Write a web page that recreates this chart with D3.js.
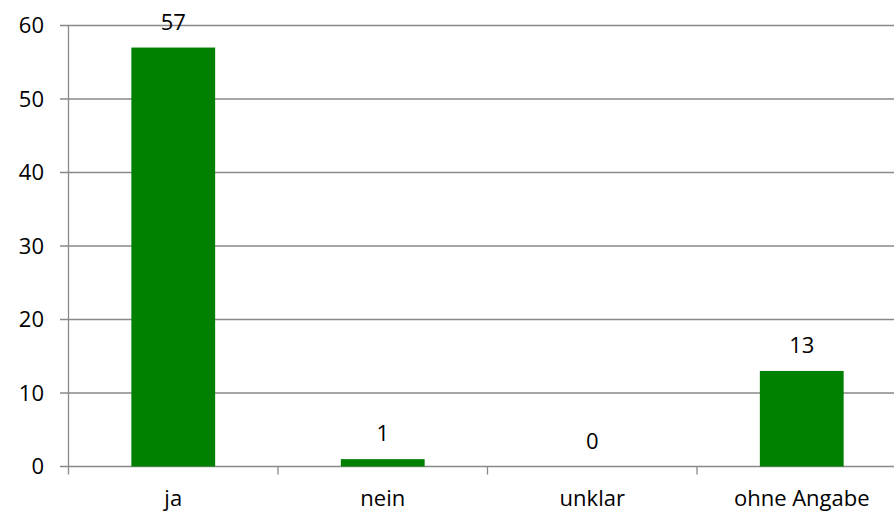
<!DOCTYPE html>
<html><head><meta charset="utf-8">
<script src="https://cdn.jsdelivr.net/npm/d3@7"></script>
<style>body{margin:0;background:#fff}svg{display:block}text{font-family:"Open Sans",sans-serif;fill:#000}</style>
</head><body><svg id="c" width="894" height="513"></svg>
<script>
const categories = ["ja", "nein", "unklar", "ohne Angabe"];
const values = [57, 1, 0, 13];
const yTicks = [0, 10, 20, 30, 40, 50, 60];

const svg = d3.select("#c");
const x0 = 68.5, plotTop = 25.5, plotBottom = 466.5;
const x = d3.scaleBand().domain(categories).range([x0, x0 + 4 * 209.5]).padding(0);
const y = d3.scaleLinear().domain([0, 60]).range([plotBottom, plotTop]);
const fs = 22;

svg.append("g").selectAll("line").data(yTicks).join("line")
  .attr("x1", 60).attr("x2", 894)
  .attr("y1", d => y(d)).attr("y2", d => y(d))
  .attr("stroke", "#898989").attr("stroke-width", 1.3);

svg.append("line").attr("x1", x0).attr("x2", x0).attr("y1", plotTop).attr("y2", plotBottom + 8)
  .attr("stroke", "#898989").attr("stroke-width", 1.3);

svg.append("g").selectAll("line").data(categories.slice(1)).join("line")
  .attr("x1", d => x(d)).attr("x2", d => x(d))
  .attr("y1", plotBottom).attr("y2", plotBottom + 8)
  .attr("stroke", "#898989").attr("stroke-width", 1.3);

svg.append("g").selectAll("text").data(yTicks).join("text")
  .attr("x", 44).attr("y", d => y(d)).attr("dy", "0.35em")
  .attr("text-anchor", "end").attr("font-size", fs).text(d => d);

const bw = x.bandwidth() * 0.4;
svg.append("g").selectAll("rect").data(values).join("rect")
  .attr("x", (d, i) => x(categories[i]) + (x.bandwidth() - bw) / 2)
  .attr("width", bw)
  .attr("y", d => y(d)).attr("height", d => plotBottom - y(d))
  .attr("fill", "#008000");

svg.append("g").selectAll("text").data(values).join("text")
  .attr("x", (d, i) => x(categories[i]) + x.bandwidth() / 2)
  .attr("y", d => y(d) - 18)
  .attr("text-anchor", "middle").attr("font-size", fs).text(d => d);

svg.append("g").selectAll("text").data(categories).join("text")
  .attr("x", d => x(d) + x.bandwidth() / 2)
  .attr("y", 506)
  .attr("text-anchor", "middle").attr("font-size", fs).text(d => d);
</script></body></html>
